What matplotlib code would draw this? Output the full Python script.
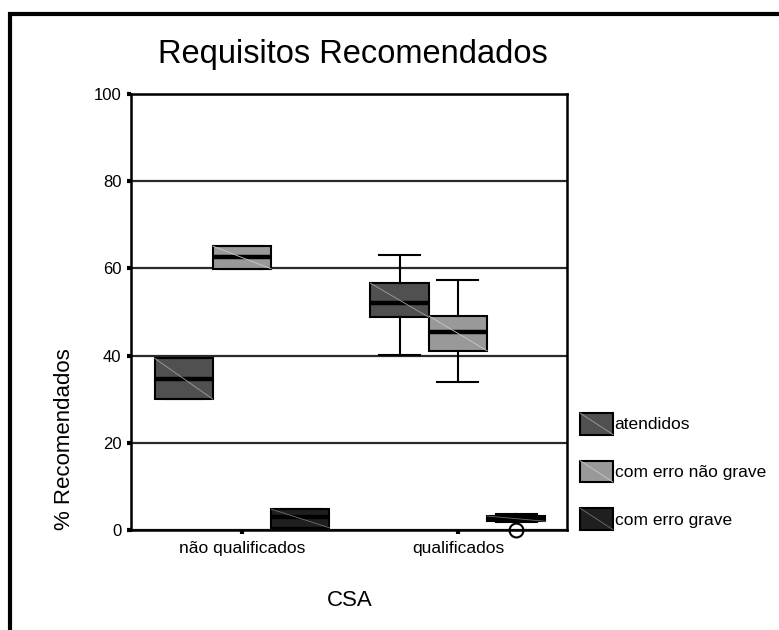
import numpy as np
import matplotlib
matplotlib.use("Agg")
from matplotlib import pyplot as plt
from matplotlib.patches import Patch, Rectangle
from matplotlib.lines import Line2D

plt.rcParams['font.family'] = ['Liberation Sans', 'DejaVu Sans']

# Data
groups = ["não qualificados", "qualificados"]
series = ["atendidos", "com erro não grave", "com erro grave"]
colors = ["#505050", "#999999", "#1f1f1f"]
diag_colors = ["#a0a0a0", "#c8c8c8", "#707070"]

# per series: [não qualificados, qualificados]
med = [[34.6, 52.1], [62.6, 45.4], [3.0, 2.5]]
q1 = [[30.0, 48.8], [59.9, 41.1], [0.5, 2.0]]
q3 = [[39.4, 56.6], [65.1, 49.1], [4.8, 3.2]]
whislo = [[30.0, 40.2], [59.9, 34.0], [0.5, 1.9]]
whishi = [[39.4, 63.1], [65.1, 57.3], [4.8, 3.6]]
fliers = [[[], []], [[], []], [[], [0.0]]]

offsets = [-0.27, 0.0, 0.27]
width = 0.27

fig = plt.figure(figsize=(7.79, 6.30), dpi=100)
ax = fig.add_axes([131/779, 1 - 530/630, 436/779, 436/630])

for s in range(len(series)):
    stats = []
    for g in range(len(groups)):
        stats.append(dict(med=med[s][g], q1=q1[s][g], q3=q3[s][g],
                          whislo=whislo[s][g], whishi=whishi[s][g],
                          fliers=fliers[s][g]))
    pos = [g + offsets[s] for g in range(len(groups))]
    bp = ax.bxp(stats, positions=pos, widths=width, capwidths=0.19,
                patch_artist=True, manage_ticks=False,
                boxprops=dict(facecolor=colors[s], edgecolor="black", linewidth=1.5),
                medianprops=dict(color="black", linewidth=3.2),
                whiskerprops=dict(color="black", linewidth=1.5),
                capprops=dict(color="black", linewidth=1.5),
                flierprops=dict(marker="o", markersize=10, markerfacecolor="none",
                                markeredgecolor="black", markeredgewidth=1.5))
    for fl in bp["fliers"]:
        fl.set_clip_on(False)
    # thin diagonal inside each box (fill pattern)
    for g in range(len(groups)):
        ax.plot([pos[g] - width/2, pos[g] + width/2], [q3[s][g], q1[s][g]],
                color=diag_colors[s], linewidth=0.6, zorder=2.5)

ax.set_xlim(-0.514, 1.505)
ax.set_ylim(0, 100)
ax.set_yticks([0, 20, 40, 60, 80, 100])
ax.set_xticks(range(len(groups)))
ax.set_xticklabels(groups, fontsize=12.5)
ax.tick_params(axis="y", labelsize=12, length=3, width=3, pad=4)
ax.tick_params(axis="x", length=3, width=3, pad=5)
ax.yaxis.grid(True, color="#2a2a2a", linewidth=1.6)
ax.set_axisbelow(True)
for sp in ax.spines.values():
    sp.set_linewidth(1.8)
    sp.set_color("black")

# titles and axis labels
fig.text(353/779, 1 - 55/630, "Requisitos Recomendados", fontsize=23.5,
         ha="center", va="center")
fig.text(65/779, 1 - 439/630, "% Recomendados", fontsize=16, rotation=90,
         ha="center", va="center")
fig.text(350/779, 1 - 600/630, "CSA", fontsize=16, ha="center", va="center")


class BoxHandler:
    def legend_artist(self, legend, orig_handle, fontsize, handlebox):
        x0, y0 = -handlebox.xdescent, -handlebox.ydescent
        w, h = handlebox.width, handlebox.height
        tr = handlebox.get_transform()
        rect = Rectangle((x0, y0), w, h, facecolor=orig_handle.get_facecolor(),
                         edgecolor="black", linewidth=1.5, transform=tr)
        line = Line2D([x0, x0 + w], [y0 + h, y0], color=orig_handle.get_label(),
                      linewidth=0.6, transform=tr)
        handlebox.add_artist(rect)
        handlebox.add_artist(line)
        return rect


handles = [Patch(facecolor=colors[i], label=diag_colors[i]) for i in range(len(series))]
fig.legend(handles, series, loc="upper left", bbox_to_anchor=(580/779, 1 - 413/630),
           frameon=False, fontsize=12.5, handlelength=1.9, handleheight=1.53,
           handletextpad=0.1, labelspacing=1.5, borderpad=0, borderaxespad=0,
           handler_map={Patch: BoxHandler()})

# outer frame of the page
fig.patches.append(Rectangle((10/779, -0.2), 1.5, 1.2 - 14/630, transform=fig.transFigure,
                             fill=False, edgecolor="black", linewidth=3))

fig.savefig("out.png", dpi=100)
